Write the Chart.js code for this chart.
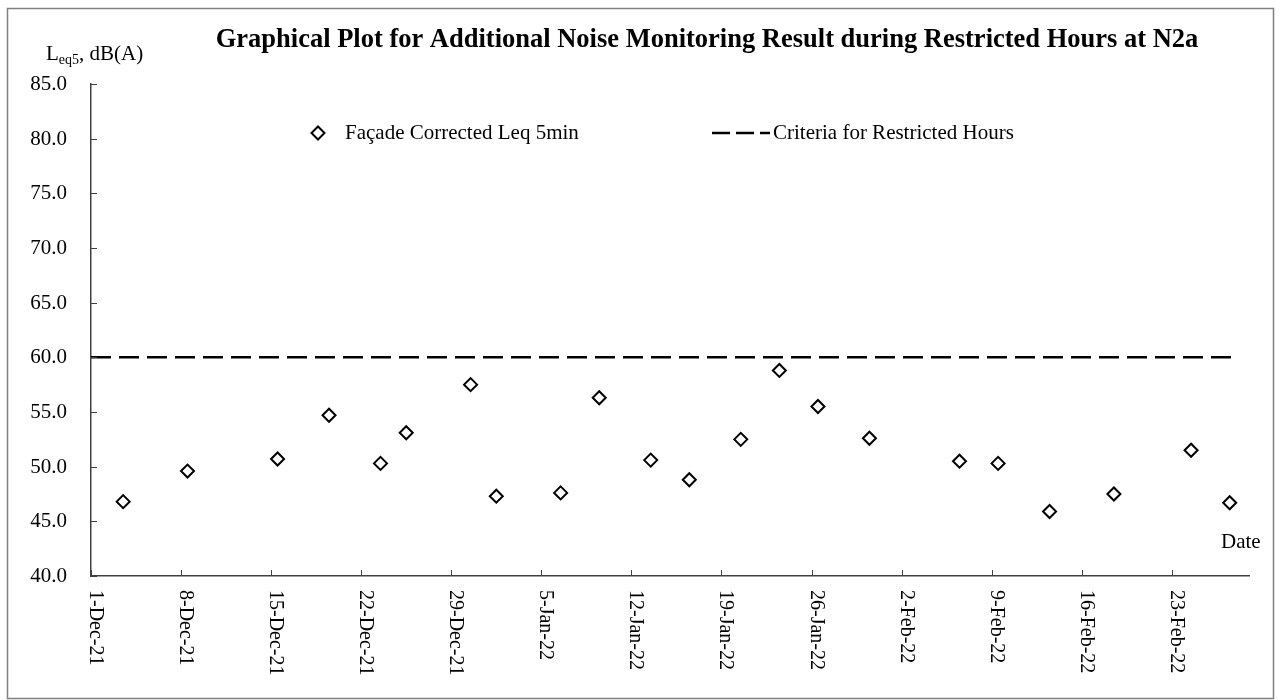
<!DOCTYPE html>
<html>
<head>
<meta charset="utf-8">
<title>N2a Restricted Hours Noise</title>
<script src="https://cdn.jsdelivr.net/npm/chart.js@4.4.1/dist/chart.umd.min.js"></script>
<style>
    html, body { margin: 0; padding: 0; background: #fff; }
    #wrap { width: 1279px; height: 700px; }
</style>
</head>
<body>
<div id="wrap"><canvas id="noiseChart"></canvas></div>
<script>
// Monitoring data (x = days since 1-Dec-21)
var noiseDays = [2.5, 7.5, 14.5, 18.5, 22.5, 24.5, 29.5, 31.5, 36.5, 39.5, 43.5,
                 46.5, 50.5, 53.5, 56.5, 60.5, 67.5, 70.5, 74.5, 79.5, 85.5, 88.5];
var noiseLeq = [46.8, 49.6, 50.7, 54.7, 50.3, 53.1, 57.5, 47.3, 47.6, 56.3, 50.6,
                48.8, 52.5, 58.8, 55.5, 52.6, 50.5, 50.3, 45.9, 47.5, 51.5, 46.7];

// Criteria line (1-Dec-21 to 28-Feb-22)
var criteriaDays = [0, 89];
var criteriaLeq = [60, 60];

// Axis tick labels
var xTickLabels = ['1-Dec-21', '8-Dec-21', '15-Dec-21', '22-Dec-21', '29-Dec-21', '5-Jan-22',
                   '12-Jan-22', '19-Jan-22', '26-Jan-22', '2-Feb-22', '9-Feb-22', '16-Feb-22', '23-Feb-22'];
var yTickValues = [40, 45, 50, 55, 60, 65, 70, 75, 80, 85];

var SERIF = '"Liberation Serif", "Times New Roman", "DejaVu Serif", serif';

function toPoints(xs, ys) {
    return xs.map(function(x, i) { return { x: x, y: ys[i] }; });
}

// Draws the Excel-like decorations: frame, title, legend, inside ticks, rotated dates
var excelDecor = {
    id: 'excelDecor',
    beforeDraw: function(chart) {
        var ctx = chart.ctx;
        ctx.save();
        ctx.fillStyle = '#fff';
        ctx.fillRect(0, 0, chart.width, chart.height);
        ctx.restore();
    },
    afterDraw: function(chart) {
        var ctx = chart.ctx;
        var xs = chart.scales.x;
        var ys = chart.scales.y;
        var area = chart.chartArea;
        ctx.save();

        // outer frame
        ctx.strokeStyle = '#7f7f7f';
        ctx.lineWidth = 1.5;
        ctx.strokeRect(7.5, 8.5, 1266, 690);

        // title
        ctx.fillStyle = '#000';
        ctx.font = 'bold 26.5px ' + SERIF;
        ctx.textAlign = 'center';
        ctx.textBaseline = 'alphabetic';
        ctx.fillText('Graphical Plot for Additional Noise Monitoring Result during Restricted Hours at N2a', 707, 47);

        // y axis title with subscript
        ctx.textAlign = 'left';
        var ty = 60;
        var tx = 46;
        ctx.font = '21px ' + SERIF;
        ctx.fillText('L', tx, ty);
        tx += ctx.measureText('L').width;
        ctx.font = '14px ' + SERIF;
        ctx.fillText('eq5', tx, ty + 4);
        tx += ctx.measureText('eq5').width;
        ctx.font = '21px ' + SERIF;
        ctx.fillText(', dB(A)', tx, ty);

        // y tick labels and inside tick marks
        ctx.strokeStyle = '#404040';
        ctx.lineWidth = 1;
        ctx.font = '21px ' + SERIF;
        ctx.textAlign = 'right';
        ctx.textBaseline = 'middle';
        yTickValues.forEach(function(v) {
            var py = Math.round(ys.getPixelForValue(v)) + 0.5;
            ctx.beginPath();
            ctx.moveTo(area.left, py);
            ctx.lineTo(area.left + 6, py);
            ctx.stroke();
            ctx.fillText(v.toFixed(1), area.left - 24, py);
        });

        // x tick marks and rotated date labels
        ctx.font = '20px ' + SERIF;
        ctx.textAlign = 'left';
        xTickLabels.forEach(function(lbl, i) {
            var px = Math.round(xs.getPixelForValue(i * 7)) + 0.5;
            ctx.beginPath();
            ctx.moveTo(px, area.bottom);
            ctx.lineTo(px, area.bottom - 6);
            ctx.stroke();
            ctx.save();
            ctx.translate(px + 4, area.bottom + 14);
            ctx.rotate(Math.PI / 2);
            ctx.fillText(lbl, 0, 0);
            ctx.restore();
        });

        // axis caption
        ctx.font = '21px ' + SERIF;
        ctx.textAlign = 'left';
        ctx.fillText('Date', 1221, 542);

        // legend
        var ly = 133;
        var pts = chart.data.datasets[0];
        var r = pts.pointRadius;
        ctx.lineWidth = pts.pointBorderWidth;
        ctx.strokeStyle = '#000';
        ctx.fillStyle = '#fff';
        ctx.beginPath();
        ctx.moveTo(318, ly - r);
        ctx.lineTo(318 + r, ly);
        ctx.lineTo(318, ly + r);
        ctx.lineTo(318 - r, ly);
        ctx.closePath();
        ctx.fill();
        ctx.stroke();
        ctx.fillStyle = '#000';
        ctx.font = '21px ' + SERIF;
        ctx.fillText(pts.label, 345, ly);

        var crit = chart.data.datasets[1];
        ctx.lineWidth = crit.borderWidth;
        ctx.setLineDash([18, 6]);
        ctx.beginPath();
        ctx.moveTo(712, ly);
        ctx.lineTo(770, ly);
        ctx.stroke();
        ctx.setLineDash([]);
        ctx.fillText(crit.label, 773, ly);

        ctx.restore();
    }
};

new Chart(document.getElementById('noiseChart').getContext('2d'), {
    type: 'scatter',
    data: {
        datasets: [
            {
                label: 'Façade Corrected Leq 5min',
                data: toPoints(noiseDays, noiseLeq),
                pointStyle: 'rectRot',
                pointRadius: 6.5,
                pointBorderWidth: 2,
                pointBorderColor: '#000',
                pointBackgroundColor: '#fff',
                showLine: false
            },
            {
                label: 'Criteria for Restricted Hours',
                data: toPoints(criteriaDays, criteriaLeq),
                showLine: true,
                borderColor: '#000',
                borderWidth: 2.5,
                borderDash: [20, 8],
                pointRadius: 0
            }
        ]
    },
    options: {
        responsive: true,
        maintainAspectRatio: false,
        animation: false,
        layout: { padding: { top: 84, right: 30, bottom: 124, left: 0 } },
        plugins: {
            legend: { display: false },
            title: { display: false },
            tooltip: { enabled: false }
        },
        scales: {
            x: {
                type: 'linear',
                min: 0,
                max: 90,
                grid: { display: false },
                border: { display: true, color: '#404040', width: 1.5 },
                ticks: { display: false, stepSize: 7, includeBounds: false },
                afterFit: function(scale) { scale.height = 0; }
            },
            y: {
                min: 40,
                max: 85,
                grid: { display: false },
                border: { display: true, color: '#404040', width: 1.5 },
                ticks: { display: false, stepSize: 5 },
                afterFit: function(scale) { scale.width = 91; }
            }
        }
    },
    plugins: [excelDecor]
});
</script>
</body>
</html>
